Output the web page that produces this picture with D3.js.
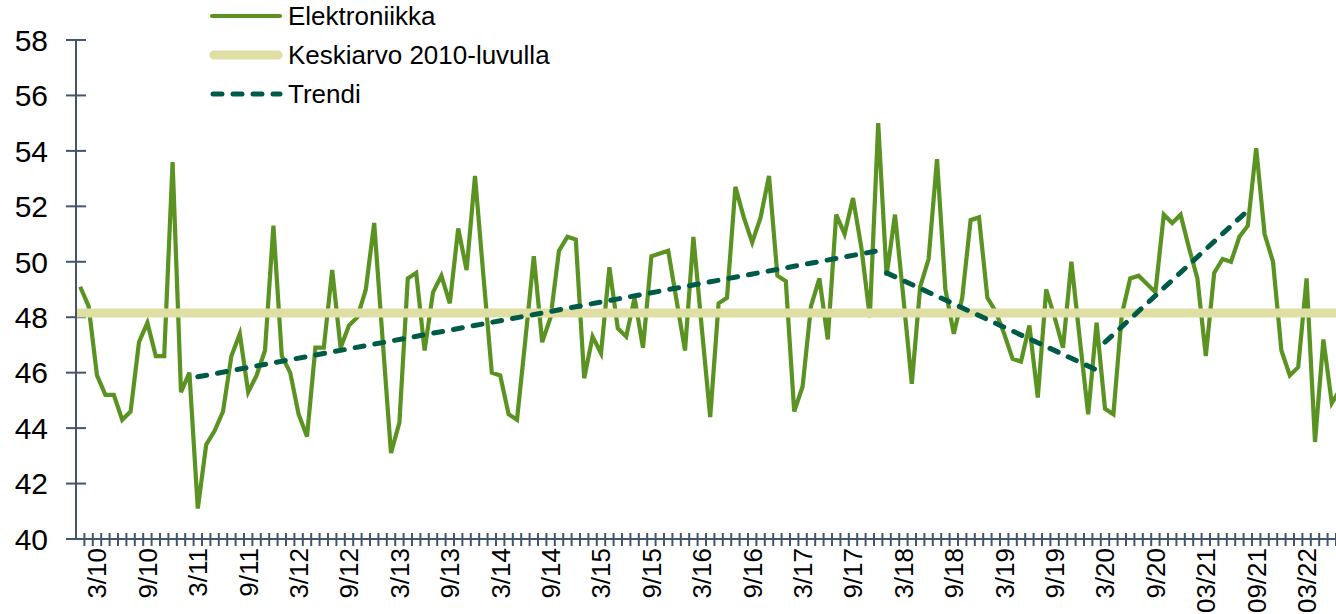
<!DOCTYPE html>
<html>
<head>
<meta charset="utf-8">
<script src="https://cdn.jsdelivr.net/npm/d3@7"></script>
<style>
  html, body { margin: 0; padding: 0; background: #fff; }
  svg { display: block; font-family: "Liberation Sans", Arial, sans-serif; }
</style>
</head>
<body>
<svg id="chart" width="1336" height="614"></svg>
<script>
// ---- Data (monthly, Jan 2010 onward) ----
const startYear = 2010;
const elektroniikka = [
  49.1, 48.4, 45.9, 45.2, 45.2, 44.3, 44.6, 47.1, 47.8, 46.6, 46.6, 53.6,
  45.3, 46.0, 41.1, 43.4, 43.9, 44.6, 46.6, 47.4, 45.3, 45.9, 46.8, 51.3,
  46.6, 46.0, 44.5, 43.7, 46.9, 46.9, 49.7, 46.9, 47.7, 48.0, 49.0, 51.4,
  47.2, 43.1, 44.2, 49.4, 49.6, 46.8, 48.9, 49.5, 48.5, 51.2, 49.7, 53.1,
  49.5, 46.0, 45.9, 44.5, 44.3, 47.2, 50.2, 47.1, 48.0, 50.4, 50.9, 50.8,
  45.8, 47.3, 46.7, 49.8, 47.6, 47.3, 48.7, 46.9, 50.2, 50.3, 50.4, 48.6,
  46.8, 50.9, 47.6, 44.4, 48.5, 48.7, 52.7, 51.6, 50.7, 51.6, 53.1, 49.5,
  49.3, 44.6, 45.5, 48.4, 49.4, 47.2, 51.7, 51.0, 52.3, 50.5, 48.0, 55.0,
  49.5, 51.7, 48.7, 45.6, 49.1, 50.1, 53.7, 49.0, 47.4, 48.7, 51.5, 51.6,
  48.7, 48.2, 47.4, 46.5, 46.4, 47.7, 45.1, 49.0, 48.0, 46.9, 50.0, 47.2,
  44.5, 47.8, 44.7, 44.5, 48.1, 49.4, 49.5, 49.2, 48.9, 51.7, 51.4, 51.7,
  50.5, 49.4, 46.6, 49.6, 50.1, 50.0, 50.9, 51.3, 54.1, 51.0, 50.0, 46.8,
  45.9, 46.2, 49.4, 43.5, 47.2, 44.9, 45.4
];
const keskiarvo = 48.15;
// Trend segments (month index from Jan 2010, value)
const trendStartIndex = [14, 96, 122];
const trendStartValue = [45.85, 49.6, 47.1];
const trendEndIndex   = [95, 121, 139];
const trendEndValue   = [50.4, 46.1, 51.85];

const yTicks = [40, 42, 44, 46, 48, 50, 52, 54, 56, 58];
const seriesNames = ["Elektroniikka", "Keskiarvo 2010-luvulla", "Trendi"];

// category labels (month/yy); from 2021 with leading zero
const categories = elektroniikka.map((_, i) => {
  const m = (i % 12) + 1;
  const y = (startYear + Math.floor(i / 12)) % 100;
  const yy = String(y).padStart(2, "0");
  return y >= 21 ? String(m).padStart(2, "0") + "/" + yy : m + "/" + yy;
});
const labelMonths = [3, 9];

// ---- Layout ----
const svg = d3.select("#chart");
const step = 8.4;
const x0 = 76;
const x = d3.scaleBand().domain(d3.range(categories.length))
  .range([x0, x0 + step * categories.length]).paddingInner(0).paddingOuter(0);
const cx = i => x(i) + x.bandwidth() / 2;
const y = d3.scaleLinear().domain([40, 58]).range([539, 40]);

const axisColor = "#44546a";
const green = "#5a9322";
const pale = "#dfdfa4";
const teal = "#005a48";

// ---- Axes ----
const axes = svg.append("g");
axes.append("line").attr("x1", x0).attr("x2", x0)
  .attr("y1", y(58)).attr("y2", y(40))
  .attr("stroke", axisColor).attr("stroke-width", 2);
axes.selectAll(".yt").data(yTicks).enter().append("line")
  .attr("x1", x0 - 10).attr("x2", x0 + 10)
  .attr("y1", d => y(d)).attr("y2", d => y(d))
  .attr("stroke", axisColor).attr("stroke-width", 2);
axes.selectAll(".yl").data(yTicks).enter().append("text")
  .attr("x", 48).attr("y", d => y(d)).attr("dy", "0.36em")
  .attr("text-anchor", "end").attr("font-size", 30).attr("fill", "#000")
  .text(d => d);
axes.append("line").attr("x1", x0).attr("x2", 1336)
  .attr("y1", y(40)).attr("y2", y(40))
  .attr("stroke", axisColor).attr("stroke-width", 2);
axes.selectAll(".xt").data(d3.range(categories.length)).enter().append("line")
  .attr("x1", d => x(d) + x.bandwidth()).attr("x2", d => x(d) + x.bandwidth())
  .attr("y1", y(40) - 6).attr("y2", y(40) + 7)
  .attr("stroke", axisColor).attr("stroke-width", 2);
const labelIdx = d3.range(categories.length).filter(i => labelMonths.includes((i % 12) + 1));
axes.selectAll(".xl").data(labelIdx).enter().append("text")
  .attr("transform", d => `translate(${cx(d)},548) rotate(-90)`)
  .attr("dy", "0.36em").attr("text-anchor", "end")
  .attr("font-size", 26).attr("fill", "#000")
  .text(d => categories[d]);

// ---- Series ----
const line = d3.line().x((d, i) => cx(i)).y(d => y(d));
svg.append("path").datum(elektroniikka)
  .attr("d", line).attr("fill", "none")
  .attr("stroke", green).attr("stroke-width", 4.2);

svg.append("line")
  .attr("x1", x.range()[0] + 1).attr("x2", x.range()[1])
  .attr("y1", y(keskiarvo)).attr("y2", y(keskiarvo))
  .attr("stroke", pale).attr("stroke-width", 9);

trendStartIndex.forEach((s, k) => {
  svg.append("line")
    .attr("x1", cx(s)).attr("y1", y(trendStartValue[k]))
    .attr("x2", cx(trendEndIndex[k])).attr("y2", y(trendEndValue[k]))
    .attr("stroke", teal).attr("stroke-width", 5)
    .attr("stroke-linecap", "round").attr("stroke-dasharray", "9,11");
});

// ---- Legend ----
const legendY = [16, 55, 94];
const lg = svg.append("g");
lg.append("line").attr("x1", 212).attr("x2", 280).attr("y1", legendY[0]).attr("y2", legendY[0])
  .attr("stroke", green).attr("stroke-width", 4.2).attr("stroke-linecap", "round");
lg.append("line").attr("x1", 214).attr("x2", 278).attr("y1", legendY[1]).attr("y2", legendY[1])
  .attr("stroke", pale).attr("stroke-width", 9).attr("stroke-linecap", "round");
lg.append("line").attr("x1", 213).attr("x2", 280).attr("y1", legendY[2]).attr("y2", legendY[2])
  .attr("stroke", teal).attr("stroke-width", 5).attr("stroke-linecap", "round")
  .attr("stroke-dasharray", "9,11");
lg.selectAll("text").data(seriesNames).enter().append("text")
  .attr("x", 288).attr("y", (d, i) => legendY[i]).attr("dy", "0.36em")
  .attr("font-size", 26).attr("fill", "#000").text(d => d);
</script>
</body>
</html>
